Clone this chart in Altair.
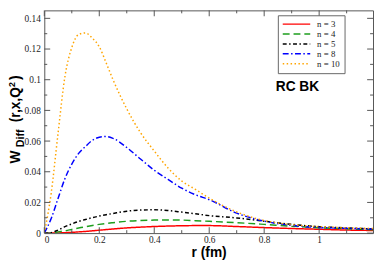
import altair as alt
import pandas as pd

# ---- data ----
r_vals = [0, 0.025, 0.05, 0.075, 0.1, 0.125, 0.15, 0.175, 0.2, 0.225, 0.25, 0.3, 0.35,
          0.4, 0.45, 0.5, 0.55, 0.6, 0.7, 0.8, 0.9, 1.0, 1.1, 1.2]
w_n3 = [0, 0, 0.0001, 0.0003, 0.0005, 0.0008, 0.0011, 0.0015, 0.0019, 0.0023, 0.0027, 0.0034, 0.0039,
        0.0043, 0.0046, 0.0048, 0.0049, 0.0049, 0.0043, 0.0036, 0.0030, 0.0025, 0.0020, 0.0017]
w_n4 = [0, 0, 0.0008, 0.0015, 0.0024, 0.0033, 0.0042, 0.0050, 0.0057, 0.0063, 0.0068, 0.0077, 0.0082,
        0.0085, 0.0086, 0.0085, 0.0081, 0.0077, 0.0068, 0.0057, 0.0045, 0.0035, 0.0028, 0.0022]
w_n5 = [0, 0.0003, 0.0020, 0.0042, 0.0060, 0.0076, 0.0089, 0.0101, 0.0111, 0.0120, 0.0128, 0.0143, 0.0150,
        0.0152, 0.0147, 0.0137, 0.0126, 0.0114, 0.0099, 0.0078, 0.0057, 0.0042, 0.0034, 0.0027]
w_n8 = [0, 0.0095, 0.0226, 0.0355, 0.0450, 0.0520, 0.0565, 0.0605, 0.0625, 0.0630, 0.0618, 0.0558, 0.0483,
        0.0410, 0.0350, 0.0293, 0.0250, 0.0218, 0.0130, 0.0078, 0.0050, 0.0037, 0.0031, 0.0027]
w_n10 = [0, 0.0260, 0.0650, 0.1020, 0.1210, 0.1295, 0.1305, 0.1270, 0.1215, 0.1110, 0.1000, 0.0810, 0.0655,
         0.0535, 0.0425, 0.0340, 0.0285, 0.0228, 0.0138, 0.0082, 0.0055, 0.0042, 0.0035, 0.0030]

series_names = ["n = 3", "n = 4", "n = 5", "n = 8", "n = 10"]
series_vals = [w_n3, w_n4, w_n5, w_n8, w_n10]
series_colors = ["#ff0000", "#1e9e1e", "#000000", "#0000ff", "#ffa500"]
series_dashes = [[1, 0], [7, 4], [4, 2.5, 1.5, 2.5], [6, 2.5, 1.5, 2.5], [1.5, 2.5]]

x_major = [0, 0.2, 0.4, 0.6, 0.8, 1.0]
x_minor = [0.1, 0.3, 0.5, 0.7, 0.9, 1.1]
y_major = [0, 0.02, 0.04, 0.06, 0.08, 0.1, 0.12, 0.14]
y_minor = [0.01, 0.03, 0.05, 0.07, 0.09, 0.11, 0.13]

annot_text = ["RC BK"]
annot_r = [0.842]
annot_w = [0.0924]

# ---- build table ----
rows = []
for name, vals in zip(series_names, series_vals):
    for rv, wv in zip(r_vals, vals):
        rows.append({"r": rv, "W": wv, "n": name})
df = pd.DataFrame(rows)

PW, PH = 335, 227
xscale = alt.Scale(domain=[0, 1.196], nice=False, zero=False)
yscale = alt.Scale(domain=[0, 0.1452], nice=False, zero=False)
FRAME = "#555555"

xaxis = alt.Axis(values=x_major, format="~g", ticks=False, grid=False, domain=False,
                 labelOverlap=False, labelFont="Liberation Serif", labelFontSize=9.5,
                 labelColor="#222", labelPadding=2, title="r (fm)",
                 titleFont="Liberation Sans", titleFontSize=14, titleFontWeight="bold",
                 titleColor="black", titleBaseline="alphabetic", titleY=24)
yaxis = alt.Axis(values=y_major, format="~g", ticks=False, grid=False, domain=False,
                 labelOverlap=False, labelFont="Liberation Serif", labelFontSize=9.5,
                 labelColor="#222", labelPadding=4, labelBaseline="middle", title="")

leg = alt.Legend(orient="none", legendX=238, legendY=5, title=None,
                 symbolType="M-3.5,0H3.5", symbolSize=64, symbolStrokeWidth=1.5,
                 symbolOffset=10, symbolFillColor="transparent",
                 labelFont="Liberation Serif", labelFontSize=9, labelColor="#222",
                 labelOffset=16, rowPadding=0.1, padding=4,
                 strokeColor="#666666", fillColor="white", cornerRadius=0)

lines = alt.Chart(df).mark_line(strokeWidth=1.5, interpolate="monotone", clip=True).encode(
    x=alt.X("r:Q", scale=xscale, axis=xaxis),
    y=alt.Y("W:Q", scale=yscale, axis=yaxis),
    color=alt.Color("n:N", scale=alt.Scale(domain=series_names, range=series_colors), legend=leg),
    strokeDash=alt.StrokeDash("n:N", scale=alt.Scale(domain=series_names, range=series_dashes), legend=leg),
    order=alt.Order("r:Q"),
)

def xticks(vals, length, top):
    d = pd.DataFrame({"r": vals})
    if top:
        enc = dict(y=alt.value(0), y2=alt.value(length))
    else:
        enc = dict(y=alt.value(PH), y2=alt.value(PH - length))
    return alt.Chart(d).mark_rule(color=FRAME, strokeWidth=1).encode(
        x=alt.X("r:Q", scale=xscale, axis=xaxis), **enc)

def yticks(vals, length, right):
    d = pd.DataFrame({"W": vals})
    if right:
        enc = dict(x=alt.value(PW), x2=alt.value(PW - length))
    else:
        enc = dict(x=alt.value(0), x2=alt.value(length))
    return alt.Chart(d).mark_rule(color=FRAME, strokeWidth=1).encode(
        y=alt.Y("W:Q", scale=yscale, axis=yaxis), **enc)

ticks = [xticks(x_major, 6, False), xticks(x_minor, 3, False),
         xticks(x_major, 6, True), xticks(x_minor, 3, True),
         yticks(y_major, 6, False), yticks(y_minor, 3, False),
         yticks(y_major, 6, True), yticks(y_minor, 3, True)]

annot = alt.Chart(pd.DataFrame({"r": annot_r, "W": annot_w, "t": annot_text})).mark_text(
    align="left", baseline="alphabetic", font="Liberation Sans", fontSize=14,
    fontWeight="bold", color="black").encode(
    x=alt.X("r:Q", scale=xscale, axis=xaxis), y=alt.Y("W:Q", scale=yscale, axis=yaxis),
    text="t:N")

# y-axis title with subscript / superscript pieces
one = pd.DataFrame({"k": [0]})
def piece(txt, xpos, ypos, size):
    return alt.Chart(one).mark_text(angle=270, align="left", baseline="alphabetic",
                                    font="Liberation Sans", fontSize=size, fontWeight="bold",
                                    color="black").encode(
        x=alt.value(xpos), y=alt.value(ypos), text=alt.value(txt))

ytitle = [piece("W", -25, 156, 14), piece("Diff", -21, 139.5, 11),
          piece("(r,x,Q", -25, 114, 14), piece("2", -30, 78, 9),
          piece(")", -25, 71, 14)]

chart = alt.layer(lines, *ticks, *ytitle, annot).properties(
    width=PW, height=PH,
    autosize=alt.AutoSizeParams(type="none"),
    padding={"left": 37, "top": 0, "right": 1, "bottom": 26},
).configure_view(stroke=FRAME, strokeWidth=1)

chart.save("out.html", embed_options={"renderer": "svg", "actions": False})
